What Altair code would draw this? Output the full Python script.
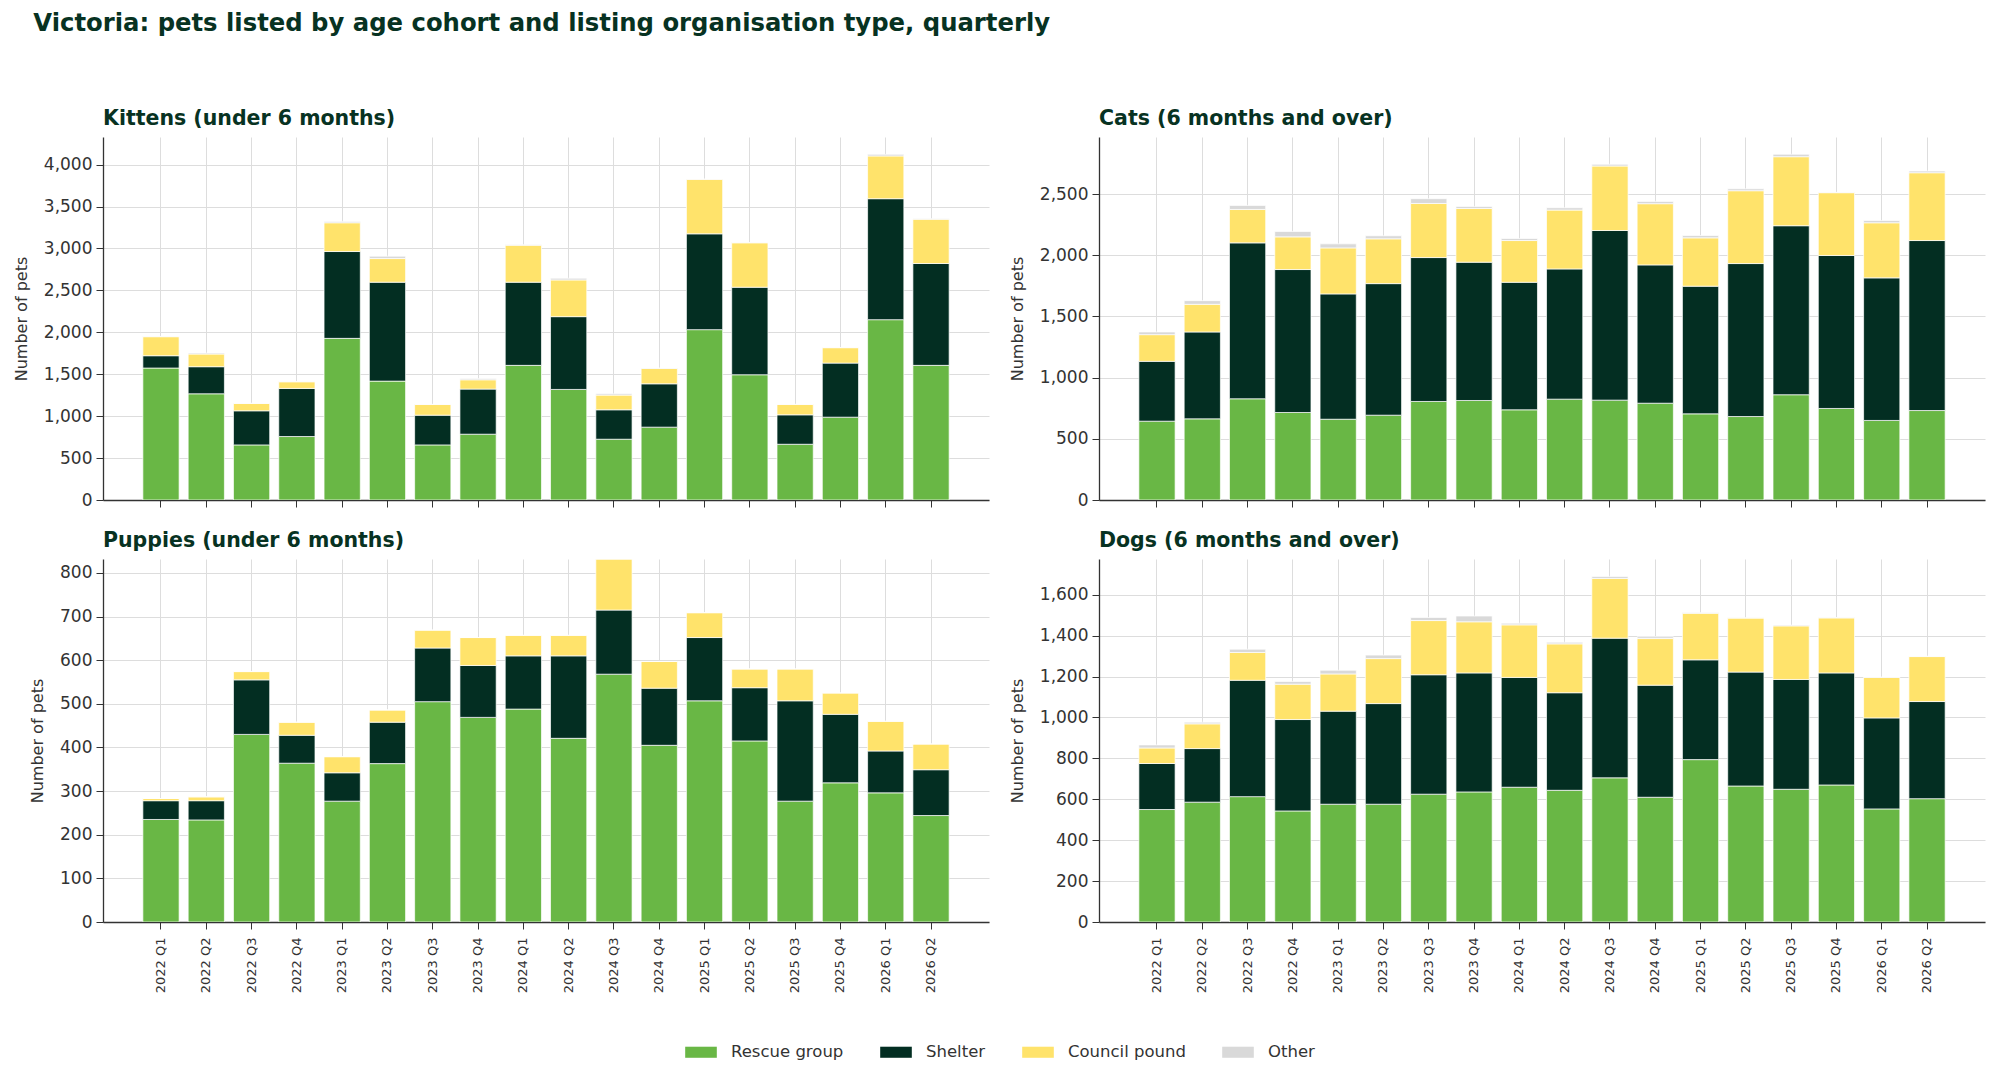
import altair as alt
import pandas as pd

quarters = ["2022 Q1", "2022 Q2", "2022 Q3", "2022 Q4",
            "2023 Q1", "2023 Q2", "2023 Q3", "2023 Q4",
            "2024 Q1", "2024 Q2", "2024 Q3", "2024 Q4",
            "2025 Q1", "2025 Q2", "2025 Q3", "2025 Q4",
            "2026 Q1", "2026 Q2"]
orgs = ["Rescue group", "Shelter", "Council pound", "Other"]
org_colors = ["#69b745", "#032e22", "#ffe36b", "#d9d9d9"]

# Kittens (under 6 months)
kit_rescue = [1574, 1267, 657, 757, 1928, 1418, 657, 785, 1606, 1319, 725, 869, 2032, 1494, 665, 988, 2151, 1606]
kit_shelter = [147, 323, 407, 574, 1036, 1180, 355, 538, 992, 868, 351, 517, 1143, 1044, 351, 645, 1443, 1215]
kit_pound = [227, 151, 87, 79, 343, 282, 127, 111, 442, 438, 175, 184, 650, 530, 123, 184, 510, 529]
kit_other = [4, 12, 4, 4, 16, 28, 3, 16, 4, 20, 16, 4, 4, 4, 4, 3, 19, 4]

# Cats (6 months and over)
cat_rescue = [644, 663, 827, 715, 660, 693, 805, 813, 737, 824, 816, 791, 704, 682, 860, 748, 650, 731]
cat_shelter = [489, 710, 1274, 1168, 1024, 1075, 1176, 1130, 1042, 1064, 1386, 1130, 1043, 1250, 1381, 1250, 1165, 1389]
cat_pound = [218, 226, 273, 267, 376, 366, 442, 439, 341, 481, 527, 500, 395, 595, 564, 513, 450, 554]
cat_other = [22, 30, 33, 44, 33, 25, 39, 17, 17, 19, 14, 19, 19, 16, 20, 3, 19, 14]

# Puppies (under 6 months)
pup_rescue = [235, 234, 430, 364, 277, 363, 505, 469, 488, 421, 568, 405, 507, 415, 277, 319, 296, 244]
pup_shelter = [43, 44, 125, 64, 65, 95, 123, 119, 122, 189, 147, 131, 145, 122, 230, 157, 96, 105]
pup_pound = [5, 9, 19, 30, 37, 28, 41, 64, 47, 47, 117, 61, 57, 43, 73, 49, 68, 59]
pup_other = [0, 0, 0, 0, 0, 0, 0, 0, 0, 0, 0, 0, 0, 0, 0, 0, 0, 0]

# Dogs (6 months and over)
dog_rescue = [550, 586, 613, 543, 576, 576, 625, 636, 659, 644, 705, 610, 794, 665, 649, 670, 553, 603]
dog_shelter = [225, 262, 569, 447, 455, 492, 584, 582, 537, 477, 683, 548, 488, 557, 537, 548, 445, 475]
dog_pound = [76, 121, 136, 173, 182, 220, 265, 250, 257, 239, 292, 228, 228, 264, 262, 269, 198, 220]
dog_other = [15, 8, 16, 13, 18, 17, 15, 28, 8, 8, 10, 9, 2, 2, 4, 2, 2, 2]

panels = [
    ("Kittens (under 6 months)", [kit_rescue, kit_shelter, kit_pound, kit_other],
     4330, [0, 500, 1000, 1500, 2000, 2500, 3000, 3500, 4000], False),
    ("Cats (6 months and over)", [cat_rescue, cat_shelter, cat_pound, cat_other],
     2966, [0, 500, 1000, 1500, 2000, 2500], False),
    ("Puppies (under 6 months)", [pup_rescue, pup_shelter, pup_pound, pup_other],
     832, [0, 100, 200, 300, 400, 500, 600, 700, 800], True),
    ("Dogs (6 months and over)", [dog_rescue, dog_shelter, dog_pound, dog_other],
     1775, [0, 200, 400, 600, 800, 1000, 1200, 1400, 1600], True),
]

rows = []
for name, series, _, _, _ in panels:
    for j, org in enumerate(orgs):
        for i, q in enumerate(quarters):
            rows.append({"panel": name, "quarter": q, "org": org, "ord": j, "count": series[j][i]})
df = pd.DataFrame(rows)

TITLE_COLOR = "#073222"


def make_panel(name, ymax, ticks, bottom):
    return alt.Chart(df).transform_filter(
        alt.datum.panel == name
    ).mark_bar(stroke="white", strokeWidth=0.7, clip=True).encode(
        x=alt.X("quarter:N", sort=quarters,
                scale=alt.Scale(paddingInner=0.2, paddingOuter=0.88),
                axis=alt.Axis(title=None, labels=bottom, labelAngle=-90,
                              labelFontSize=13, labelPadding=8)),
        y=alt.Y("count:Q", stack="zero",
                scale=alt.Scale(domain=[0, ymax], nice=False),
                axis=alt.Axis(title="Number of pets", values=ticks, format=",d")),
        color=alt.Color("org:N", scale=alt.Scale(domain=orgs, range=org_colors),
                        legend=alt.Legend(title=None)),
        order=alt.Order("ord:Q", sort="ascending"),
    ).properties(
        width=886, height=363,
        title=alt.TitleParams(name, anchor="start", frame="group", fontSize=20.5,
                              fontWeight="bold", color=TITLE_COLOR, offset=8),
    )


charts = [make_panel(n, ymax, t, b) for n, _, ymax, t, b in panels]

chart = alt.concat(*charts, columns=2, spacing={"row": 22, "column": 20}).properties(
    title=alt.TitleParams(
        "Victoria: pets listed by age cohort and listing organisation type, quarterly",
        anchor="start", frame="bounds", fontSize=24.3, fontWeight="bold",
        color=TITLE_COLOR, offset=72, dx=20),
    padding={"left": 5, "top": 4, "right": 5, "bottom": 5},
).configure(
    font="DejaVu Sans"
).configure_view(
    stroke=None
).configure_axis(
    grid=True, gridColor="#dddddd", gridWidth=1,
    domainColor="#333333", domainWidth=1.3,
    tickColor="#333333", tickSize=7,
    labelColor="#333333", titleColor="#333333",
).configure_axisY(
    labelFontSize=17, labelPadding=4, titleFontSize=16,
    titleFontWeight="normal", titlePadding=14,
).configure_legend(
    orient="none", legendX=582, legendY=899, direction="horizontal", padding=0,
    labelFontSize=16.5, labelColor="#333333", labelOffset=14,
    symbolType="M-1,-0.35L1,-0.35L1,0.35L-1,0.35Z", symbolSize=1000,
    symbolStrokeWidth=0, columnPadding=36,
)

chart.save("out.html", embed_options={"renderer": "svg", "actions": False})
